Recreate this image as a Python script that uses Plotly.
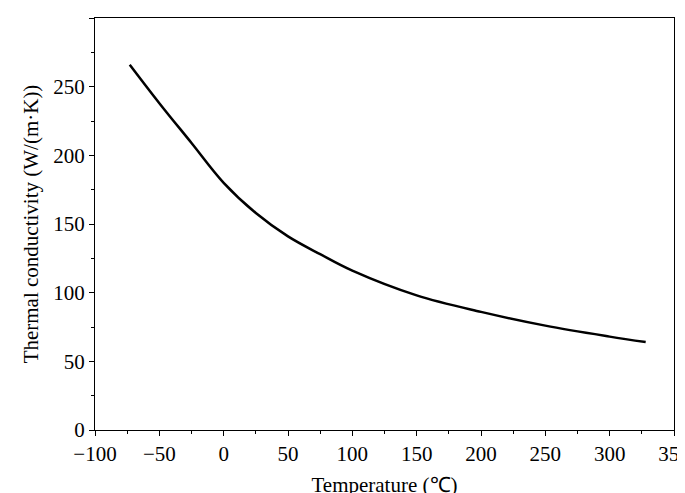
import plotly.graph_objects as go

temperature = [-73, -50, -25, 0, 25, 50, 75, 100, 150, 200, 250, 300, 328]
conductivity = [266, 238, 209, 180, 158, 141, 128, 116, 98, 86, 76, 68, 64]

fig = go.Figure(go.Scatter(x=temperature, y=conductivity, mode="lines",
                           line=dict(color="black", width=2.5, shape="spline")))
ax = dict(showline=True, linecolor="black", linewidth=1.2, mirror=True, ticks="outside",
          ticklen=5, tickcolor="black", showgrid=False, zeroline=False, automargin=False,
          tickfont=dict(size=21, color="black"))
fig.update_xaxes(**ax, range=[-100, 350], dtick=50, minor=dict(ticks="outside", ticklen=3, dtick=25, tickcolor="black"),
                 title=dict(text="Temperature (℃)", font=dict(size=21, color="black"), standoff=12))
fig.update_yaxes(**ax, range=[0, 300], dtick=50, minor=dict(ticks="outside", ticklen=3, dtick=25, tickcolor="black"),
                 title=dict(text="Thermal conductivity (W/(m·K))", font=dict(size=21, color="black"), standoff=8))
fig.update_layout(width=685, height=493, margin=dict(l=87, r=19, t=10, b=71),
                  plot_bgcolor="white", paper_bgcolor="white", showlegend=False,
                  font=dict(family="Liberation Serif", color="black"))
fig.write_html("out.html")
